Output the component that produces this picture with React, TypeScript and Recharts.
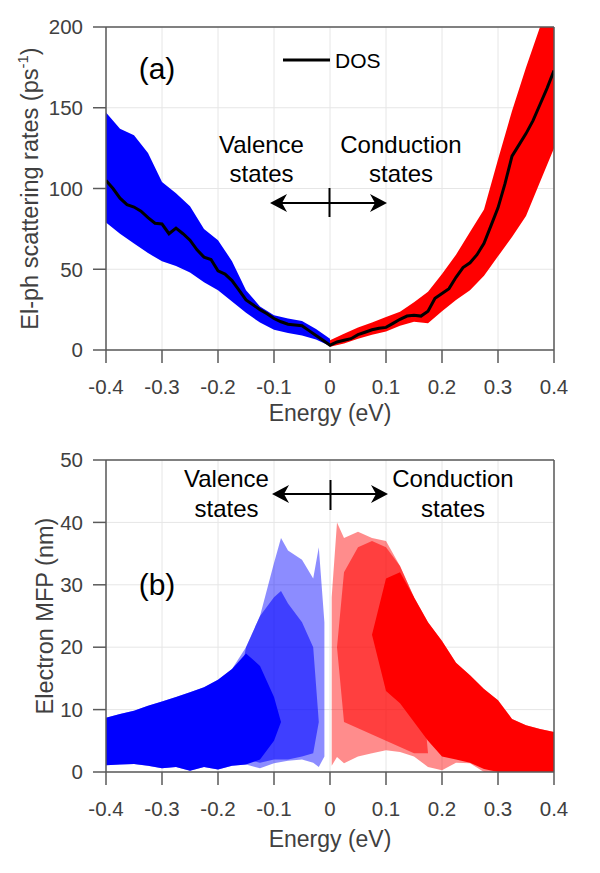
import React from 'react';
import { ComposedChart, Area, Line, XAxis, YAxis, CartesianGrid } from 'recharts';

const FONT = '"Liberation Sans", Arial, Helvetica, sans-serif';
const AXIS = '#5a5a5a';
const TICK_TEXT = '#404040';
const GRID = '#e6e6e6';
const BLUE = '#0000ff';
const RED = '#ff0000';

// ---------- shared axis ticks ----------
const energyTicks = [-0.4, -0.3, -0.2, -0.1, 0, 0.1, 0.2, 0.3, 0.4];
const rateTicks = [0, 50, 100, 150, 200];
const mfpTicks = [0, 10, 20, 30, 40, 50];

// ---------- panel (a): scattering rates (ps^-1) ----------
const valenceEnergyA = [-0.4, -0.375, -0.35, -0.325, -0.3, -0.275, -0.25, -0.225, -0.2, -0.175, -0.15, -0.125, -0.1, -0.075, -0.05, -0.025, 0];
const valenceHighA = [147, 137, 133, 122, 104, 97, 89, 75, 68, 55, 37, 27, 21.5, 19.5, 18, 13, 7];
const valenceLowA = [79, 72, 66, 60, 55, 52, 48, 42, 37, 30, 23, 17, 12.5, 10.5, 9, 6.5, 2.5];

const conductionEnergyA = [0, 0.025, 0.05, 0.075, 0.1, 0.125, 0.15, 0.175, 0.2, 0.225, 0.25, 0.275, 0.3, 0.325, 0.35, 0.375, 0.4];
const conductionHighA = [6, 10, 14, 17, 20.5, 23.7, 29.5, 36, 47, 59, 73, 87, 118, 148, 175, 200, 200];
const conductionLowA = [2, 4, 7, 9.5, 11.5, 15, 17.5, 16.5, 24, 31, 37, 46, 58, 70, 83, 104, 125];

const dosEnergy = [-0.4, -0.3875, -0.375, -0.3625, -0.35, -0.3375, -0.325, -0.3125, -0.3, -0.2875, -0.275, -0.2625, -0.25, -0.2375, -0.225, -0.2125, -0.2, -0.1875, -0.175, -0.1625, -0.15, -0.1375, -0.125, -0.1125, -0.1, -0.0875, -0.075, -0.0625, -0.05, -0.0375, -0.025, -0.0125, 0, 0.0125, 0.025, 0.0375, 0.05, 0.0625, 0.075, 0.0875, 0.1, 0.1125, 0.125, 0.1375, 0.15, 0.1625, 0.175, 0.1875, 0.2, 0.2125, 0.225, 0.2375, 0.25, 0.2625, 0.275, 0.2875, 0.3, 0.3125, 0.325, 0.3375, 0.35, 0.3625, 0.375, 0.3875, 0.4];
const dosRate = [105, 100, 94, 90, 88.5, 86, 82, 78.5, 78, 72, 75.5, 72, 68, 62, 57.5, 56, 49, 47, 43, 37, 31, 28, 25, 22.5, 19.5, 17.5, 16, 15.5, 15, 12, 9, 6, 3, 5, 6, 7, 9.5, 11, 12.5, 13.5, 14, 16.5, 19, 21, 21.5, 21, 24, 32, 35, 38, 45, 51, 54, 59, 66, 77, 88, 103, 120, 127, 134, 142, 152, 162, 173];

// ---------- panel (b): electron MFP (nm) ----------
// outer (sparse) envelope of the valence cloud
const valenceEnergyB = [-0.4, -0.375, -0.35, -0.325, -0.3, -0.275, -0.25, -0.225, -0.2, -0.175, -0.15, -0.125, -0.1, -0.0875, -0.075, -0.05, -0.03, -0.02, -0.01];
const valenceMfpHighB = [8.7, 9.3, 9.8, 10.6, 11.3, 12.0, 12.8, 13.6, 14.8, 16.5, 20, 25, 33.5, 37.5, 35.5, 34, 31, 36, 24];
const valenceMfpLowB = [1.1, 1.2, 1.3, 1.0, 0.6, 0.8, 0.2, 0.8, 0.4, 1.0, 1.2, 0.6, 1.4, 1.6, 1.8, 2.0, 1.5, 0.8, 2.5];
// medium-density part
const valenceMidEnergyB = [-0.175, -0.15, -0.125, -0.1, -0.0875, -0.075, -0.05, -0.03, -0.02];
const valenceMidHighB = [8, 20, 25, 28, 29, 27, 24, 20, 8];
const valenceMidLowB = [8, 2, 1.5, 2, 2, 2, 2.5, 3, 8];
// dense core
const valenceCoreEnergyB = [-0.4, -0.375, -0.35, -0.325, -0.3, -0.275, -0.25, -0.225, -0.2, -0.175, -0.15, -0.125, -0.1, -0.0875];
const valenceCoreHighB = [8.7, 9.3, 9.8, 10.6, 11.3, 12.0, 12.8, 13.6, 14.8, 16.5, 19, 17, 12, 8];
const valenceCoreLowB = [1.1, 1.2, 1.3, 1.0, 0.6, 0.8, 0.2, 0.8, 0.4, 1.0, 1.2, 2, 5, 8];

// outer (sparse) envelope of the conduction cloud
const conductionEnergyB = [0.003, 0.0125, 0.025, 0.05, 0.075, 0.1, 0.125, 0.15, 0.175, 0.2, 0.225, 0.25, 0.275, 0.3, 0.325, 0.35, 0.375, 0.4];
const conductionMfpHighB = [28, 40, 37.5, 38.5, 37.5, 37, 33, 28, 24, 21, 17.5, 15.5, 13.3, 11.5, 8.5, 7.5, 6.9, 6.4];
const conductionMfpLowB = [1, 2.4, 1.4, 2.5, 3, 3.5, 3.2, 2.5, 0.8, 0.3, 1.5, 1.4, 0, 0, 0, 0, 0, 0];
// medium-density part
const conductionMidEnergyB = [0.0125, 0.025, 0.05, 0.075, 0.1, 0.125, 0.15, 0.175];
const conductionMidHighB = [20, 32, 36, 37, 36, 33, 28, 3];
const conductionMidLowB = [20, 8, 7, 6, 5, 4, 3, 3];
// dense core
const conductionCoreEnergyB = [0.075, 0.1, 0.125, 0.15, 0.175, 0.2, 0.225, 0.25, 0.275, 0.3, 0.325, 0.35, 0.375, 0.4];
const conductionCoreHighB = [22, 31, 32, 28, 24, 21, 17.5, 15.5, 13.3, 11.5, 8.5, 7.5, 6.9, 6.4];
const conductionCoreLowB = [22, 13, 11, 8, 5, 2.5, 2, 1.5, 0.5, 0, 0, 0, 0, 0];

// ---------- table builders ----------
type Band = { key: string; energy: number[]; lo: number[]; hi: number[] };
function buildRows(bands: Band[]) {
  const map = new Map<string, any>();
  bands.forEach((b) =>
    b.energy.forEach((e, i) => {
      const k = e.toFixed(4);
      const row = map.get(k) ?? { energy: e };
      row[b.key] = [b.lo[i], b.hi[i]];
      map.set(k, row);
    })
  );
  return Array.from(map.values()).sort((a, b) => a.energy - b.energy);
}

const rowsA = buildRows([
  { key: 'val', energy: valenceEnergyA, lo: valenceLowA, hi: valenceHighA },
  { key: 'con', energy: conductionEnergyA, lo: conductionLowA, hi: conductionHighA },
]);
const dosRows = dosEnergy.map((e, i) => ({ energy: e, rate: dosRate[i] }));

const rowsB = buildRows([
  { key: 'val', energy: valenceEnergyB, lo: valenceMfpLowB, hi: valenceMfpHighB },
  { key: 'valMid', energy: valenceMidEnergyB, lo: valenceMidLowB, hi: valenceMidHighB },
  { key: 'valCore', energy: valenceCoreEnergyB, lo: valenceCoreLowB, hi: valenceCoreHighB },
  { key: 'con', energy: conductionEnergyB, lo: conductionMfpLowB, hi: conductionMfpHighB },
  { key: 'conMid', energy: conductionMidEnergyB, lo: conductionMidLowB, hi: conductionMidHighB },
  { key: 'conCore', energy: conductionCoreEnergyB, lo: conductionCoreLowB, hi: conductionCoreHighB },
]);

// ---------- label helpers ----------
function YTitle(props: any) {
  const { viewBox, text, sup, tail, dx } = props;
  const cx = viewBox.x + dx;
  const cy = viewBox.y + viewBox.height / 2;
  return (
    <text x={cx} y={cy} transform={`rotate(-90 ${cx} ${cy})`} textAnchor="middle" fontSize={23.5} fill={TICK_TEXT} fontFamily={FONT}>
      {text}
      {sup ? <tspan dy={-10} fontSize={15}>{sup}</tspan> : null}
      {sup ? <tspan dy={10}>{tail}</tspan> : null}
    </text>
  );
}

const tickStyle = { fill: TICK_TEXT, fontSize: 20.5, fontFamily: FONT };
const axisLineStyle = { stroke: AXIS, strokeWidth: 1.5 };
const tickLineStyle = { stroke: AXIS, strokeWidth: 1.5 };
const xTitle = { value: 'Energy (eV)', position: 'insideBottom', offset: 0, fill: TICK_TEXT, fontSize: 23, fontFamily: FONT } as any;

function Arrowhead({ x, y, dir }: { x: number; y: number; dir: number }) {
  const L = 17, W = 9, N = 12;
  const d = `M${x} ${y} L${x + dir * L} ${y - W} L${x + dir * N} ${y} L${x + dir * L} ${y + W} Z`;
  return <path d={d} fill="#000" />;
}

function DoubleArrow({ x1, x2, y, xt, t1, t2 }: { x1: number; x2: number; y: number; xt: number; t1: number; t2: number }) {
  return (
    <g>
      <line x1={x1 + 10} x2={x2 - 10} y1={y} y2={y} stroke="#000" strokeWidth={2} />
      <Arrowhead x={x1} y={y} dir={1} />
      <Arrowhead x={x2} y={y} dir={-1} />
      <line x1={xt} x2={xt} y1={t1} y2={t2} stroke="#000" strokeWidth={2} />
    </g>
  );
}

export default function App() {
  return (
    <div style={{ position: 'absolute', left: 0, top: 0, width: 600, height: 873, background: '#fff', fontFamily: FONT }}>
      {/* Panel (a) */}
      <div style={{ position: 'absolute', left: 0, top: 0 }}>
        <ComposedChart width={600} height={430} data={rowsA} margin={{ top: 13, right: 30, bottom: 9, left: 26 }}>
          <CartesianGrid stroke={GRID} strokeWidth={1} />
          <Area dataKey="val" type="linear" stroke="none" fill={BLUE} fillOpacity={1} isAnimationActive={false} />
          <Area dataKey="con" type="linear" stroke="none" fill={RED} fillOpacity={1} isAnimationActive={false} />
          <Line data={dosRows} dataKey="rate" type="linear" stroke="#000" strokeWidth={3} dot={false} isAnimationActive={false} />
          <XAxis dataKey="energy" type="number" domain={[-0.4, 0.4]} ticks={energyTicks} allowDataOverflow height={71} tickSize={13} tickMargin={16} tick={tickStyle} axisLine={axisLineStyle} tickLine={tickLineStyle} label={xTitle} />
          <XAxis xAxisId="top" orientation="top" dataKey="energy" type="number" domain={[-0.4, 0.4]} ticks={energyTicks} allowDataOverflow height={14} tickSize={13} tick={false} axisLine={axisLineStyle} tickLine={tickLineStyle} />
          <YAxis
            type="number"
            domain={[0, 200]}
            ticks={rateTicks}
            allowDataOverflow
            width={80}
            tickSize={13}
            tickMargin={10}
            tick={tickStyle}
            axisLine={axisLineStyle}
            tickLine={tickLineStyle}
            label={<YTitle text="El-ph scattering rates (ps" sup="-1" tail=")" dx={12} />}
          />
          <YAxis yAxisId="right" orientation="right" type="number" domain={[0, 200]} ticks={rateTicks} allowDataOverflow width={16} tickSize={13} tick={false} axisLine={axisLineStyle} tickLine={tickLineStyle} />
        </ComposedChart>
      </div>

      {/* Panel (b) */}
      <div style={{ position: 'absolute', left: 0, top: 430 }}>
        <ComposedChart width={600} height={443} data={rowsB} margin={{ top: 16, right: 30, bottom: 26, left: 26 }}>
          <CartesianGrid stroke={GRID} strokeWidth={1} />
          <Area dataKey="val" type="linear" stroke="none" fill={BLUE} fillOpacity={0.45} isAnimationActive={false} />
          <Area dataKey="valMid" type="linear" stroke="none" fill={BLUE} fillOpacity={0.55} isAnimationActive={false} />
          <Area dataKey="valCore" type="linear" stroke="none" fill={BLUE} fillOpacity={1} isAnimationActive={false} />
          <Area dataKey="con" type="linear" stroke="none" fill={RED} fillOpacity={0.45} isAnimationActive={false} />
          <Area dataKey="conMid" type="linear" stroke="none" fill={RED} fillOpacity={0.55} isAnimationActive={false} />
          <Area dataKey="conCore" type="linear" stroke="none" fill={RED} fillOpacity={1} isAnimationActive={false} />
          <XAxis dataKey="energy" type="number" domain={[-0.4, 0.4]} ticks={energyTicks} allowDataOverflow height={75} tickSize={13} tickMargin={16} tick={tickStyle} axisLine={axisLineStyle} tickLine={tickLineStyle} label={xTitle} />
          <XAxis xAxisId="top" orientation="top" dataKey="energy" type="number" domain={[-0.4, 0.4]} ticks={energyTicks} allowDataOverflow height={14} tickSize={13} tick={false} axisLine={axisLineStyle} tickLine={tickLineStyle} />
          <YAxis
            type="number"
            domain={[0, 50]}
            ticks={mfpTicks}
            allowDataOverflow
            width={80}
            tickSize={13}
            tickMargin={10}
            tick={tickStyle}
            axisLine={axisLineStyle}
            tickLine={tickLineStyle}
            label={<YTitle text="Electron MFP (nm)" dx={27} />}
          />
          <YAxis yAxisId="right" orientation="right" type="number" domain={[0, 50]} ticks={mfpTicks} allowDataOverflow width={16} tickSize={13} tick={false} axisLine={axisLineStyle} tickLine={tickLineStyle} />
        </ComposedChart>
      </div>

      {/* Annotations */}
      <svg width={600} height={873} style={{ position: 'absolute', left: 0, top: 0, pointerEvents: 'none' }} fontFamily={FONT}>
        <text x={157} y={79} textAnchor="middle" fontSize={30} fill="#000">(a)</text>
        <line x1={283} x2={330} y1={60} y2={60} stroke="#000" strokeWidth={3} />
        <text x={335} y={68} fontSize={21} fill="#000">DOS</text>
        <text x={261.5} y={153} textAnchor="middle" fontSize={24} fill="#000">Valence</text>
        <text x={261.5} y={182} textAnchor="middle" fontSize={24} fill="#000">states</text>
        <text x={401} y={153} textAnchor="middle" fontSize={24} fill="#000">Conduction</text>
        <text x={401} y={182} textAnchor="middle" fontSize={24} fill="#000">states</text>
        <DoubleArrow x1={270} x2={387} y={203} xt={329.5} t1={188} t2={217} />

        <text x={157} y={595} textAnchor="middle" fontSize={30} fill="#000">(b)</text>
        <text x={226.5} y={487} textAnchor="middle" fontSize={24} fill="#000">Valence</text>
        <text x={226.5} y={517} textAnchor="middle" fontSize={24} fill="#000">states</text>
        <text x={453} y={487} textAnchor="middle" fontSize={24} fill="#000">Conduction</text>
        <text x={453} y={517} textAnchor="middle" fontSize={24} fill="#000">states</text>
        <DoubleArrow x1={272} x2={388} y={494} xt={330.5} t1={480} t2={510} />
      </svg>
    </div>
  );
}
